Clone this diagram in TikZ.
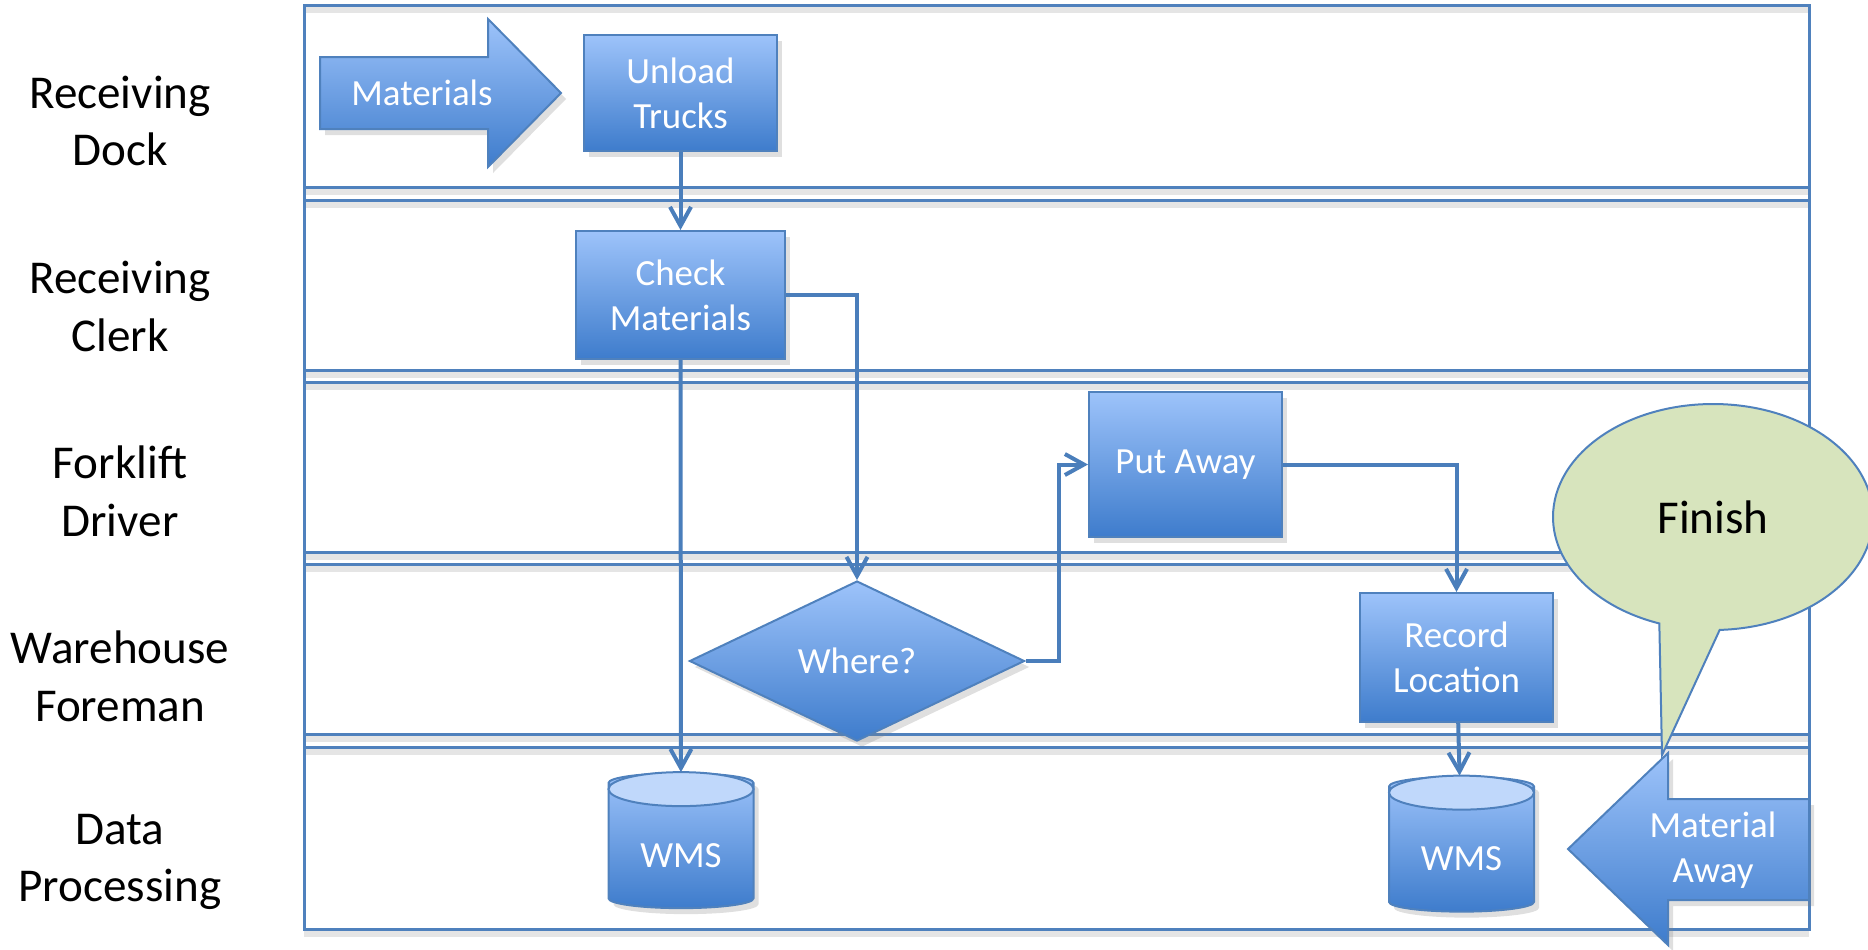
\documentclass[tikz,border=0pt]{standalone}
\usepackage{fontspec}
\setmainfont{Carlito}
\usepackage{tikz}
\usetikzlibrary{arrows.meta}
\usetikzlibrary{backgrounds}
\usetikzlibrary{calc}
\usetikzlibrary{positioning}
\usetikzlibrary{shadows}
\usetikzlibrary{shapes.geometric}
\usetikzlibrary{shapes.callouts}
\definecolor{laneblue}{RGB}{79,129,189}
\definecolor{flowblue}{RGB}{74,126,187}
\definecolor{boxtop}{RGB}{157,195,250}
\definecolor{boxbot}{RGB}{62,124,204}
\definecolor{captop}{RGB}{192,216,251}
\definecolor{finishgreen}{RGB}{215,228,189}
\tikzset{
    lanerule/.style = {draw=laneblue,line width=0.3mm},
    laneshade/.style = {draw=black!10,line width=0.7mm},
    lanelabel/.style = {align=center,font=\fontsize{13.4}{16.4}\selectfont}
}
\tikzset{
    stepbox/.style = {draw=laneblue,line width=0.2mm,top color=boxtop,bottom color=boxbot,
        text=white,align=center,inner sep=0,font=\fontsize{10.5}{12.8}\selectfont,
        drop shadow={shadow xshift=0.5mm,shadow yshift=-0.6mm,opacity=0.25}},
    taskbox/.style = {stepbox,rectangle},
    decide/.style = {stepbox,diamond,minimum width=3.35cm,minimum height=1.6cm},
    store/.style = {stepbox,cylinder,shape border rotate=90,aspect=0.24,
        minimum width=1.45cm,minimum height=1.35cm,text height=0.42cm,text depth=0pt},
    capfill/.style = {draw=laneblue,line width=0.2mm,fill=captop},
    bigarrow/.style = {draw=laneblue,line width=0.2mm,top color=boxtop,bottom color=boxbot,
        drop shadow={shadow xshift=0.5mm,shadow yshift=-0.6mm,opacity=0.25}},
    arrowtext/.style = {text=white,align=center,font=\fontsize{10.5}{12.8}\selectfont},
    finishcall/.style = {ellipse callout,draw=laneblue,line width=0.2mm,fill=finishgreen,
        callout pointer arc=22,minimum width=3.2cm,minimum height=2.26cm,inner sep=0,
        font=\fontsize{13.4}{16.4}\selectfont}
}
\tikzset{
    flow/.style = {draw=flowblue,line width=0.4mm,-{Straight Barb[length=1.9mm,width=2.1mm]}}
}

\begin{document}
\begin{tikzpicture}
    \newcommand*\vsep{-1.852}
    \useasboundingbox (0,0) rectangle (18.68,-9.49);
    % Lanes
    \path (1.20,-1.21) node[lanelabel] (dock) {Receiving\\Dock}
        to +(0,\vsep) node[lanelabel] (clerk) {Receiving\\Clerk}
        to +(0,2*\vsep) node[lanelabel] (driver) {Forklift\\Driver}
        to +(0,3*\vsep) node[lanelabel] (foreman) {Warehouse\\Foreman}
        to +(0,4*\vsep) node[lanelabel] (dataproc) {Data\\Processing}
    ;
    \begin{scope}[on background layer]
        \foreach \y in {0.05,1.87,2.00,3.70,3.82,5.52,5.64,7.34,7.47,9.29}
            \draw[laneshade] (3.04,-\y-0.045) -- (18.09,-\y-0.045);
        \draw[lanerule] (3.04,-0.05) rectangle (18.09,-9.29);
        \foreach \y in {1.87,2.00,3.70,3.82,5.52,5.64,7.34,7.47}
            \draw[lanerule] (3.04,-\y) -- (18.09,-\y);
    \end{scope}
    % Steps
    \path[bigarrow] (3.20,-0.57) -- (4.88,-0.57) -- (4.88,-0.19) -- (5.61,-0.93)
        -- (4.88,-1.67) -- (4.88,-1.29) -- (3.20,-1.29) -- cycle;
    \node[arrowtext] (mats) at (4.22,-0.93) {Materials};
    \node[taskbox,minimum width=1.93cm,minimum height=1.16cm] (unload) at (6.805,-0.93) {Unload\\Trucks};
    \node[taskbox,minimum width=2.09cm,minimum height=1.28cm,below=0.78cm of unload] (check) {Check\\Materials};
    \node[decide] (where) at (8.57,-6.61) {Where?};
    \node[taskbox,minimum width=1.93cm,minimum height=1.45cm] (putaway) at (11.855,-4.645) {Put Away};
    \node[taskbox,minimum width=1.93cm,minimum height=1.29cm] (record) at (14.565,-6.575) {Record\\Location};
    \node[store] (wmsA) at (6.81,-8.46) {WMS};
    \node[store] (wmsB) at (14.615,-8.495) {WMS};
    \foreach \db in {wmsA,wmsB}
        \path[capfill] ($(\db.north)+(0,-0.17)$) ellipse [x radius=0.725cm,y radius=0.17cm];
    % Finish
    \coordinate (fintip) at (16.62,-7.55);
    \node[finishcall,callout absolute pointer={(fintip)}] (finish) at (17.13,-5.17) {Finish};
    \path[bigarrow] (18.09,-7.99) -- (16.68,-7.99) -- (16.68,-7.53) -- (15.68,-8.49)
        -- (16.68,-9.45) -- (16.68,-9.00) -- (18.09,-9.00) -- cycle;
    \node[arrowtext] (away) at (17.13,-8.50) {Material\\Away};
    % Flow
    \foreach \src/\dest in {unload/check,check/wmsA,record/wmsB}
        \draw[flow] (\src) to (\dest);
    \draw[flow] (check.east) -| (where.north);
    \draw[flow] (where.east) -- ++(0.33,0) |- (putaway.west);
    \draw[flow] (putaway.east) -| (record.north);
\end{tikzpicture}
\end{document}
